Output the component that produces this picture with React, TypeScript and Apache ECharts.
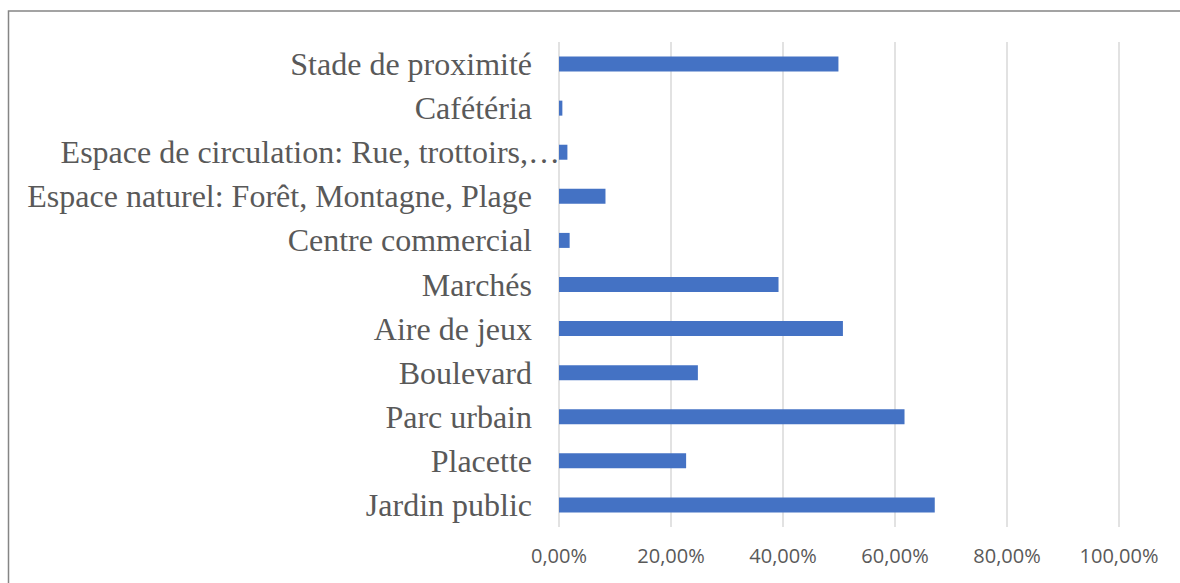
import React, { useEffect, useRef } from "react";
import * as echarts from "echarts";

const categories = [
  "Jardin public",
  "Placette",
  "Parc urbain",
  "Boulevard",
  "Aire de jeux",
  "Marchés",
  "Centre commercial",
  "Espace naturel: Forêt, Montagne, Plage",
  "Espace de circulation: Rue, trottoirs,…",
  "Cafétéria",
  "Stade de proximité",
];

const values = [67.1, 22.7, 61.7, 24.8, 50.7, 39.2, 1.9, 8.3, 1.5, 0.6, 49.9];

const xTicks = { min: 0, max: 100, interval: 20 };

export default function App() {
  const ref = useRef<HTMLDivElement>(null);
  useEffect(() => {
    if (!ref.current) return;
    const chart = echarts.init(ref.current, null, { renderer: "svg" });
    const catData = categories.map((c) =>
      c.endsWith("…") ? { value: c, textStyle: { padding: [0, -28, 0, 0] } } : c
    );
    chart.setOption({
      animation: false,
      backgroundColor: "#ffffff",
      graphic: [
        {
          type: "rect",
          shape: { x: 8.5, y: 11, width: 1200, height: 600 },
          style: { fill: "none", stroke: "#858585", lineWidth: 1.5 },
          z: 100,
        },
      ],
      grid: { left: 559, right: 61, top: 42, bottom: 56, containLabel: false },
      xAxis: {
        type: "value",
        min: xTicks.min,
        max: xTicks.max,
        interval: xTicks.interval,
        axisLine: { show: false },
        axisTick: { show: false },
        splitLine: { show: true, lineStyle: { color: "#d9d9d9", width: 1.5 } },
        axisLabel: {
          color: "#595959",
          fontFamily: "Open Sans",
          fontSize: 20,
          margin: 18,
          formatter: (v: number) => v.toFixed(2).replace(".", ",") + "%",
        },
      },
      yAxis: {
        type: "category",
        data: catData,
        axisLine: { show: false },
        axisTick: { show: false },
        axisLabel: {
          color: "#595959",
          fontFamily: "Liberation Serif",
          fontSize: 32,
          margin: 27,
        },
      },
      series: [
        {
          type: "bar",
          data: values,
          barWidth: 15,
          itemStyle: { color: "#4472C4" },
        },
      ],
    });
    return () => chart.dispose();
  }, []);
  return (
    <div
      ref={ref}
      style={{ position: "absolute", left: 0, top: 0, width: 1180, height: 583 }}
    />
  );
}
